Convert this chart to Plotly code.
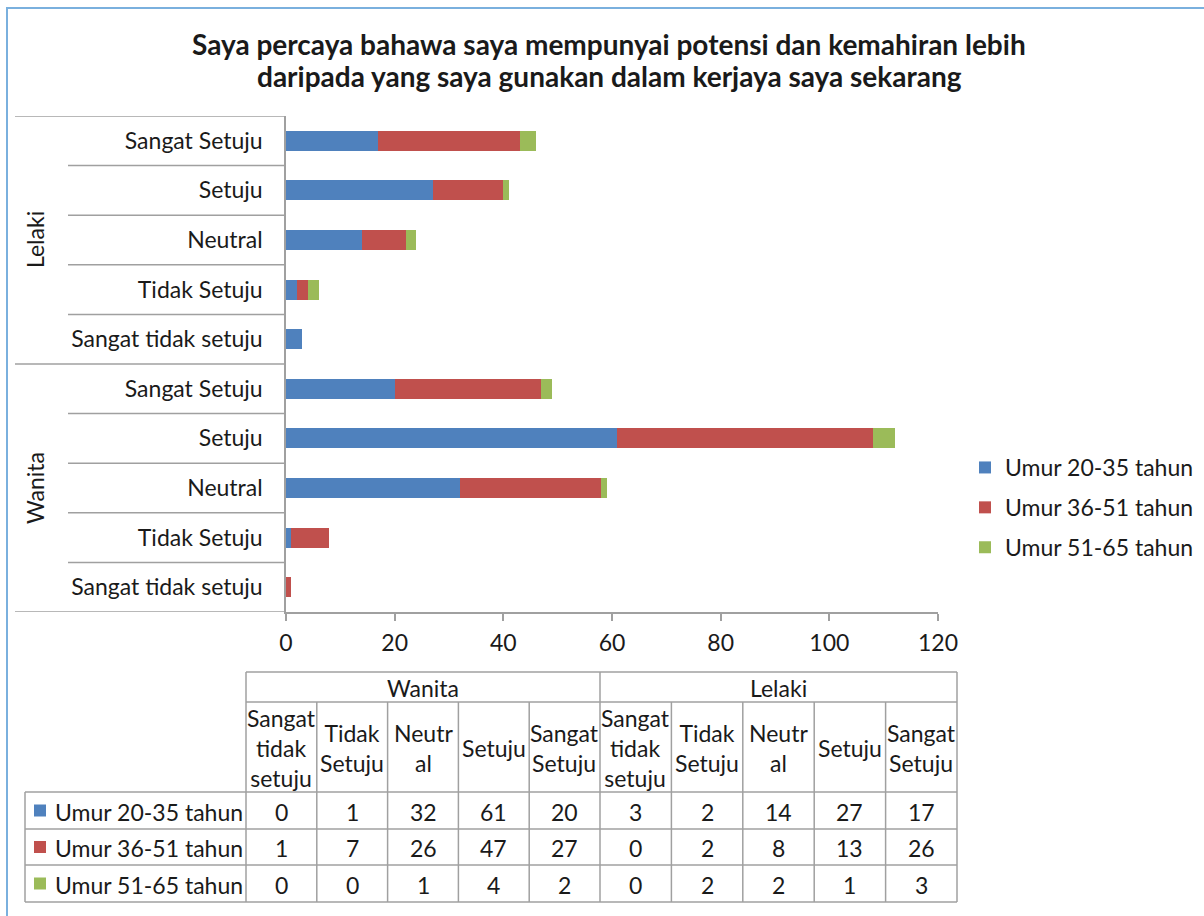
import plotly.graph_objects as go

# ---------------- data ----------------
groups = ["Wanita", "Lelaki"]
responses = ["Sangat tidak setuju", "Tidak Setuju", "Neutral", "Setuju", "Sangat Setuju"]
table_headers = ["Sangat<br>tidak<br>setuju", "Tidak<br>Setuju", "Neutr<br>al", "Setuju", "Sangat<br>Setuju"]
series_names = ["Umur 20-35 tahun", "Umur 36-51 tahun", "Umur 51-65 tahun"]
# order: Wanita (STS, TS, N, S, SS), Lelaki (STS, TS, N, S, SS)
umur_20_35 = [0, 1, 32, 61, 20, 3, 2, 14, 27, 17]
umur_36_51 = [1, 7, 26, 47, 27, 0, 2, 8, 13, 26]
umur_51_65 = [0, 0, 1, 4, 2, 0, 2, 2, 1, 3]
x_ticks = [0, 20, 40, 60, 80, 100, 120]
title_lines = ["Saya percaya bahawa saya mempunyai potensi dan kemahiran lebih",
               "daripada yang saya gunakan dalam kerjaya saya sekarang"]

# ---------------- styling ----------------
colors = ["#4f81bd", "#c0504d", "#9bbb59"]
FONT = "Lato"
FS = 23
TXT = "#1a1a1a"
GRID = "#a0a0a0"
W, H = 1204, 916


def px(x):
    return x / W


def py(y):
    return 1 - y / H


series = [umur_20_35, umur_36_51, umur_51_65]
keys = [f"{g}|{r}" for g in groups for r in responses]
tick_text = [r for g in groups for r in responses]

fig = go.Figure()
for name, vals, col in zip(series_names, series, colors):
    fig.add_trace(go.Bar(
        y=keys, x=vals, orientation="h", name=name, legendgroup=name,
        marker=dict(color=col, line=dict(width=0)),
    ))

# plot area in pixels
PX0, PX1 = 286, 938
PY0, PY1 = 116, 612

shapes = []
annotations = []

# outer chart border
shapes.append(dict(type="rect", xref="paper", yref="paper",
                   x0=px(7), x1=px(1215), y0=py(8), y1=py(930),
                   line=dict(color="#7ab0de", width=2), fillcolor="rgba(0,0,0,0)"))

# title (two centred lines)
for line_text, ty in zip(title_lines, [44, 76]):
    annotations.append(dict(xref="paper", yref="paper", x=px(609), y=py(ty),
                            xanchor="center", yanchor="middle", showarrow=False,
                            text="<b>" + line_text + "</b>",
                            font=dict(family=FONT, size=28, color=TXT)))

# category separators on the y-axis
n = len(keys)
per_group = len(responses)
for k in range(-1, n):
    yv = k + 0.5
    if k == -1 or k == n - 1 or (k + 1) % per_group == 0:
        xl = 15
    else:
        xl = 68
    shapes.append(dict(type="line", xref="paper", yref="y",
                       x0=px(xl), x1=px(PX0), y0=yv, y1=yv,
                       line=dict(color=GRID, width=1.5)))

# group labels
for gi, g in enumerate(groups):
    mid = gi * per_group + (per_group - 1) / 2
    annotations.append(dict(xref="paper", yref="y", x=px(35), y=mid, text=g,
                            xanchor="center", yanchor="middle",
                            textangle=-90, showarrow=False,
                            font=dict(family=FONT, size=FS, color=TXT)))

# ---------------- data table ----------------
TL = 246          # left of value columns
TM = 600          # split between groups
TR = 957          # right edge
LBL_L = 25        # left of row-label column
Y_TOP, Y_G, Y_H, Y_BOT = 672, 702, 792, 902
row_edges = [792, 829, 865, 902]
ncols = len(responses)
col_edges = [TL + (TM - TL) * i / ncols for i in range(ncols)] + \
            [TM + (TR - TM) * i / ncols for i in range(ncols + 1)]


def hline(x0, x1, y):
    shapes.append(dict(type="line", xref="paper", yref="paper",
                       x0=px(x0), x1=px(x1), y0=py(y), y1=py(y),
                       line=dict(color=GRID, width=1.5)))


def vline(x, y0, y1):
    shapes.append(dict(type="line", xref="paper", yref="paper",
                       x0=px(x), x1=px(x), y0=py(y0), y1=py(y1),
                       line=dict(color=GRID, width=1.5)))


hline(TL, TR, Y_TOP)
hline(TL, TR, Y_G)
for y in row_edges:
    hline(LBL_L, TR, y)
vline(LBL_L, Y_H, Y_BOT)
vline(TL, Y_TOP, Y_BOT)
vline(TM, Y_TOP, Y_BOT)
vline(TR, Y_TOP, Y_BOT)
for i, x in enumerate(col_edges):
    if x not in (TL, TM, TR):
        vline(x, Y_G, Y_BOT)

cell_font = dict(family=FONT, size=FS, color=TXT)


def cell_text(x, y, text, anchor="center"):
    annotations.append(dict(xref="paper", yref="paper", x=px(x), y=py(y),
                            xanchor=anchor, yanchor="middle", align="center",
                            text=text, showarrow=False, font=cell_font))


# group header
for gi, g in enumerate(groups):
    xa = TL if gi == 0 else TM
    xb = TM if gi == 0 else TR
    cell_text((xa + xb) / 2, (Y_TOP + Y_G) / 2 + 1, g)
# sub headers and values
for ci in range(len(keys)):
    xc = (col_edges[ci] + col_edges[ci + 1]) / 2
    cell_text(xc, (Y_G + Y_H) / 2 + 1, table_headers[ci % ncols])
    for ri, vals in enumerate(series):
        yc = (row_edges[ri] + row_edges[ri + 1]) / 2
        cell_text(xc, yc + 1, str(vals[ci]))
# row labels with colour keys
for ri, (name, col) in enumerate(zip(series_names, colors)):
    yc = (row_edges[ri] + row_edges[ri + 1]) / 2
    shapes.append(dict(type="rect", xref="paper", yref="paper",
                       x0=px(34), x1=px(46), y0=py(yc - 6), y1=py(yc + 6),
                       fillcolor=col, line=dict(width=0)))
    cell_text(53, yc + 1, name, anchor="left")

fig.update_layout(
    width=W, height=H,
    margin=dict(l=0, r=0, t=0, b=0),
    paper_bgcolor="white", plot_bgcolor="white",
    barmode="stack", bargap=0.6,
    font=dict(family=FONT, size=FS, color=TXT),
    xaxis=dict(domain=[px(PX0), px(PX1)], range=[0, 120], tickvals=x_ticks,
               ticks="outside", ticklen=7, tickcolor=GRID, tickwidth=1.5,
               showline=True, linecolor=GRID, linewidth=1.5, automargin=False,
               showgrid=False, zeroline=False, ticklabelstandoff=3,
               tickfont=dict(family=FONT, size=FS, color=TXT)),
    yaxis=dict(domain=[py(PY1), py(PY0)], type="category",
               categoryorder="array", categoryarray=keys,
               tickvals=keys, ticktext=tick_text, range=[-0.5, n - 0.5],
               ticks="", showline=True, linecolor=GRID, linewidth=1.5,
               automargin=False,
               showgrid=False, zeroline=False, ticklabelstandoff=17,
               tickfont=dict(family=FONT, size=FS, color=TXT)),
    legend=dict(x=px(1199), y=py(446), xanchor="right", yanchor="top",
                traceorder="grouped", tracegroupgap=7,
                font=dict(family=FONT, size=FS, color=TXT),
                bgcolor="rgba(0,0,0,0)"),
    shapes=shapes,
    annotations=annotations,
)

fig.write_html("out.html", config={"displayModeBar": False},
               post_script="document.body.style.margin='0px';")
